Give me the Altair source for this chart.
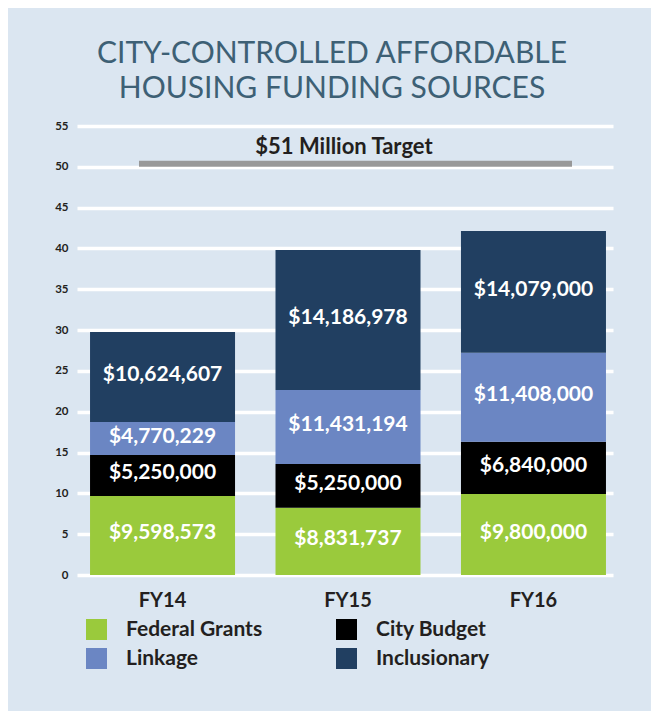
import altair as alt
import pandas as pd

# ---- data ----
years = ["FY14", "FY15", "FY16"]
sources = ["Federal Grants", "City Budget", "Linkage", "Inclusionary"]
# dollar amounts printed on the segments
federal_grants = [9598573, 8831737, 9800000]
city_budget = [5250000, 5250000, 6840000]
linkage = [4770229, 11431194, 11408000]
inclusionary = [10624607, 14186978, 14079000]
# drawn segment heights (millions)
federal_grants_h = [9.68, 8.24, 9.92]
city_budget_h = [5.02, 5.36, 6.41]
linkage_h = [4.04, 9.06, 10.90]
inclusionary_h = [11.03, 17.14, 14.91]

target_label = ["$51 Million Target"]
target_band = [50.0, 50.75]   # millions
target_label_y = [52.4]
y_ticks = [0, 5, 10, 15, 20, 25, 30, 35, 40, 45, 50, 55]

color_map = {"Federal Grants": "#9aca3c", "City Budget": "#000000",
             "Linkage": "#6b86c3", "Inclusionary": "#213f61"}
# legend is filled column by column: this order gives rows
# (Federal Grants, City Budget) / (Linkage, Inclusionary)
legend_order = ["Federal Grants", "Linkage", "City Budget", "Inclusionary"]

series = [federal_grants, city_budget, linkage, inclusionary]
heights = [federal_grants_h, city_budget_h, linkage_h, inclusionary_h]
rows = []
for si, (name, vals, hs) in enumerate(zip(sources, series, heights)):
    for fy, v, h in zip(years, vals, hs):
        rows.append({"fy": fy, "source": name, "dollars": v, "m": h, "order": si})
df = pd.DataFrame(rows)

target_df = pd.DataFrame({"y": [target_band[0]], "y2": [target_band[1]]})
label_df = pd.DataFrame({"label": target_label, "y": target_label_y})

BG = "#dbe6f1"
TXT = "#231f20"
FONT = "Lato"

x_scale = alt.Scale(domain=years, paddingInner=0.218, paddingOuter=0.054, align=0.65)
y_scale = alt.Scale(domain=[0, 55], nice=False)

base = alt.Chart(df)

bars = base.mark_bar(size=145).encode(
    x=alt.X("fy:N", scale=x_scale, sort=years,
            axis=alt.Axis(title=None, labelAngle=0, domain=False, ticks=False,
                          labelFont=FONT, labelFontSize=20, labelFontWeight="bold",
                          labelColor=TXT, labelPadding=15)),
    y=alt.Y("m:Q", stack="zero", scale=y_scale,
            axis=alt.Axis(title=None, values=y_ticks, domain=False, ticks=False,
                          grid=True, gridColor="white", gridWidth=3.5, gridOpacity=1,
                          labelFont=FONT, labelFontSize=11.5, labelFontWeight="bold",
                          labelColor=TXT, labelPadding=9)),
    color=alt.Color("source:N",
                    scale=alt.Scale(domain=legend_order,
                                    range=[color_map[s] for s in legend_order]),
                    legend=alt.Legend(title=None, orient="none", legendX=9, legendY=493,
                                      columns=2, columnPadding=73, rowPadding=7,
                                      symbolType="square", symbolSize=441,
                                      symbolStrokeWidth=0, symbolOpacity=1,
                                      labelFont=FONT, labelFontSize=21,
                                      labelFontWeight="bold", labelColor=TXT,
                                      labelOffset=19, padding=0)),
    order=alt.Order("order:Q", sort="ascending"),
)

texts = base.transform_stack(
    stack="m", groupby=["fy"], sort=[alt.SortField("order", "ascending")], as_=["m0", "m1"]
).transform_calculate(
    mid="(datum.m0 + datum.m1) / 2"
).mark_text(font=FONT, fontSize=21, fontWeight="bold", color="white",
            baseline="middle", dy=-2).encode(
    x=alt.X("fy:N", scale=x_scale, sort=years),
    y=alt.Y("mid:Q", scale=y_scale),
    text=alt.Text("dollars:Q", format="$,"),
)

target = alt.Chart(target_df).mark_rect(color="#989898").encode(
    x=alt.value(62), x2=alt.value(495),
    y=alt.Y("y:Q", scale=y_scale), y2="y2:Q",
)

target_text = alt.Chart(label_df).mark_text(
    font=FONT, fontSize=22, fontWeight="bold", color=TXT, baseline="middle", align="center"
).encode(
    x=alt.value(267), y=alt.Y("y:Q", scale=y_scale), text="label:N"
)

chart = alt.layer(target, bars, texts, target_text).properties(
    width=536, height=449,
    title=alt.TitleParams(
        text=["CITY-CONTROLLED AFFORDABLE", "HOUSING FUNDING SOURCES"],
        font=FONT, fontSize=30, fontWeight="normal", color="#3d6075",
        anchor="middle", frame="group", offset=16, lineHeight=35, dx=-13,
    ),
    background=BG,
    padding={"left": 69, "top": 118, "right": 38, "bottom": 136},
    autosize=alt.AutoSizeParams(type="none"),
).configure_view(stroke=None)

chart.save("out.html", embed_options={"renderer": "svg", "actions": False})
